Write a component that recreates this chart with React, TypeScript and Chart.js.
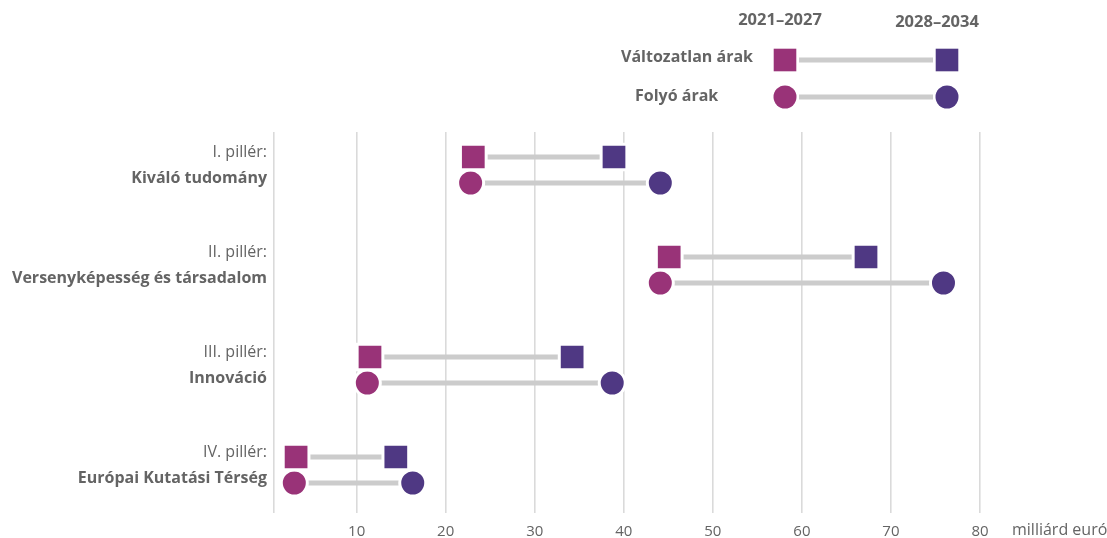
import React, { useEffect, useRef } from 'react';
import { Chart, registerables } from 'chart.js';

Chart.register(...registerables);

// ---- Data ----
const pillarNumbers = ['I. pillér:', 'II. pillér:', 'III. pillér:', 'IV. pillér:'];
const pillarNames = ['Kiváló tudomány', 'Versenyképesség és társadalom', 'Innováció', 'Európai Kutatási Térség'];
const constant2021 = [23.1, 45.1, 11.5, 3.2];
const constant2028 = [38.9, 67.2, 34.2, 14.4];
const current2021 = [22.8, 44.1, 11.2, 3.0];
const current2028 = [44.1, 75.9, 38.7, 16.3];
const periodLabels = ['2021–2027', '2028–2034'];
const priceLabels = ['Változatlan árak', 'Folyó árak'];
const xTickValues = [10, 20, 30, 40, 50, 60, 70, 80];
const unitLabel = 'milliárd euró';

// ---- Style ----
const FONT = "'Open Sans', 'Noto Sans', sans-serif";
const MAGENTA = '#993378';
const PURPLE = '#4f3883';
const LINE_GRAY = '#cccccc';
const GRID = '#dadada';
const TEXT = '#646464';
const X_MIN = 0.72;
const X_MAX = 80;
const SQ_OFF = 0.25;
const CI_OFF = 0.51;
const SQ_R = 18.2;
const CI_R = 13;

const rowSq = (i: number) => i + SQ_OFF;
const rowCi = (i: number) => i + CI_OFF;

const overlayPlugin = {
  id: 'overlay',
  afterDraw(chart: any) {
    const { ctx, chartArea, scales } = chart;
    const y = scales.y;
    const x = scales.x;
    ctx.save();
    // Category labels
    ctx.textAlign = 'right';
    ctx.textBaseline = 'middle';
    ctx.fillStyle = TEXT;
    pillarNumbers.forEach((t, i) => {
      const ys = y.getPixelForValue(rowSq(i));
      ctx.font = `16px ${FONT}`;
      ctx.fillText(t, chartArea.left - 7, ys - 5);
      ctx.font = `bold 16px ${FONT}`;
      ctx.fillText(pillarNames[i], chartArea.left - 7, ys + 21);
    });
    // unit label
    ctx.textAlign = 'left';
    ctx.font = `16px ${FONT}`;
    ctx.fillText(unitLabel, x.right + 32, 530);

    // Legend
    const lx1 = 785;
    const lx2 = 947;
    const ly1 = 60;
    const ly2 = 97;
    ctx.font = `bold 16.5px ${FONT}`;
    ctx.textAlign = 'center';
    ctx.fillText(periodLabels[0], 780, 20);
    ctx.fillText(periodLabels[1], 937, 22);
    ctx.font = `bold 16px ${FONT}`;
    ctx.textAlign = 'right';
    ctx.fillText(priceLabels[0], 753, 57);
    ctx.textAlign = 'left';
    ctx.fillText(priceLabels[1], 635, 96);

    ctx.strokeStyle = LINE_GRAY;
    ctx.lineWidth = 5;
    ctx.beginPath();
    ctx.moveTo(lx1 + 14, ly1);
    ctx.lineTo(lx2 - 14, ly1);
    ctx.moveTo(lx1 + 14, ly2);
    ctx.lineTo(lx2 - 14, ly2);
    ctx.stroke();

    const half = 11.3;
    ctx.fillStyle = MAGENTA;
    ctx.fillRect(lx1 - half, ly1 - half, half * 2, half * 2);
    ctx.beginPath();
    ctx.arc(lx1, ly2, 11.5, 0, Math.PI * 2);
    ctx.fill();
    ctx.fillStyle = PURPLE;
    ctx.fillRect(lx2 - half, ly1 - half, half * 2, half * 2);
    ctx.beginPath();
    ctx.arc(lx2, ly2, 11.5, 0, Math.PI * 2);
    ctx.fill();
    ctx.restore();
  },
};

export default function App() {
  const ref = useRef<HTMLCanvasElement | null>(null);

  useEffect(() => {
    if (!ref.current) return;

    const markerBase = {
      type: 'scatter' as const,
      showLine: false,
      pointBorderColor: '#ffffff',
      pointBorderWidth: 3,
      pointHoverBorderWidth: 3,
      clip: false as any,
      order: 0,
    };

    const markerSets = [
      { label: 'Változatlan 2021–2027', values: constant2021, row: rowSq, color: MAGENTA, style: 'rect', r: SQ_R },
      { label: 'Változatlan 2028–2034', values: constant2028, row: rowSq, color: PURPLE, style: 'rect', r: SQ_R },
      { label: 'Folyó 2021–2027', values: current2021, row: rowCi, color: MAGENTA, style: 'circle', r: CI_R },
      { label: 'Folyó 2028–2034', values: current2028, row: rowCi, color: PURPLE, style: 'circle', r: CI_R },
    ].map((s) => ({
      ...markerBase,
      label: s.label,
      data: s.values.map((v, i) => ({ x: v, y: s.row(i) })),
      backgroundColor: s.color,
      pointBackgroundColor: s.color,
      pointStyle: s.style,
      pointRadius: s.r,
      pointHoverRadius: s.r,
    }));

    const connectorSets: any[] = [];
    pillarNames.forEach((_, i) => {
      connectorSets.push({
        type: 'line',
        label: 'c-sq-' + i,
        data: [
          { x: constant2021[i], y: rowSq(i) },
          { x: constant2028[i], y: rowSq(i) },
        ],
        borderColor: LINE_GRAY,
        borderWidth: 5,
        pointRadius: 0,
        pointHoverRadius: 0,
        clip: false,
        order: 5,
      });
      connectorSets.push({
        type: 'line',
        label: 'c-ci-' + i,
        data: [
          { x: current2021[i], y: rowCi(i) },
          { x: current2028[i], y: rowCi(i) },
        ],
        borderColor: LINE_GRAY,
        borderWidth: 5,
        pointRadius: 0,
        pointHoverRadius: 0,
        clip: false,
        order: 5,
      });
    });

    const chart = new Chart(ref.current, {
      type: 'scatter',
      data: { datasets: [...markerSets, ...connectorSets] as any },
      options: {
        responsive: false,
        animation: false,
        events: [],
        layout: { padding: { left: 274, right: 127, top: 132, bottom: 0 } },
        plugins: {
          legend: { display: false },
          tooltip: { enabled: false },
        },
        scales: {
          x: {
            type: 'linear',
            min: X_MIN,
            max: X_MAX,
            afterBuildTicks: (scale: any) => {
              scale.ticks = [{ value: X_MIN }, ...xTickValues.map((v) => ({ value: v }))];
            },
            afterFit: (scale: any) => {
              scale.height = 25;
            },
            ticks: {
              color: TEXT,
              font: { family: FONT, size: 15 },
              padding: 10,
              maxRotation: 0,
              autoSkip: false,
              callback: (v: any) => (v === X_MIN ? '' : String(v)),
            },
            grid: {
              color: GRID,
              lineWidth: 1.6,
              drawTicks: false,
            },
            border: { display: false },
          },
          y: {
            type: 'linear',
            display: false,
            reverse: true,
            min: 0,
            max: 3.81,
          },
        },
      },
      plugins: [overlayPlugin],
    });

    return () => chart.destroy();
  }, []);

  return (
    <div style={{ position: 'absolute', left: 0, top: 0, width: 1107, height: 538 }}>
      <canvas ref={ref} width={1107} height={538} />
    </div>
  );
}
